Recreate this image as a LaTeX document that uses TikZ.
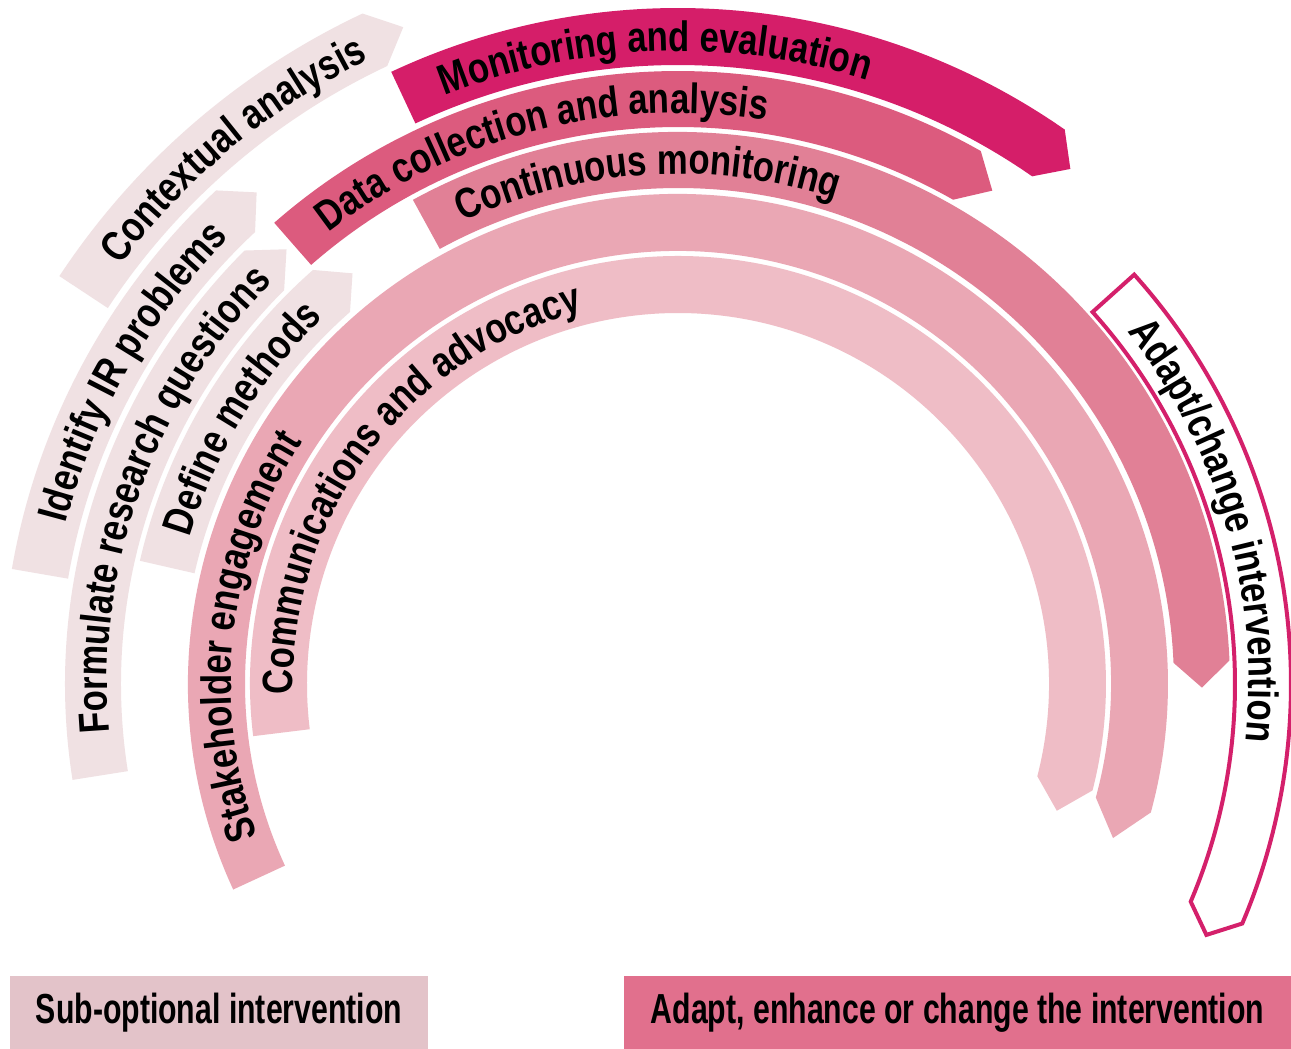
\documentclass[tikz,border=0pt]{standalone}
\usepackage{fontspec}
\setmainfont{Liberation Sans}
\newfontfamily\bandfont{Liberation Sans}[FakeStretch=0.815]
\newfontfamily\legfont{Liberation Sans}[FakeStretch=0.72]
\usetikzlibrary{decorations.text}
\definecolor{lightband}{HTML}{F0E1E3}
\definecolor{mecol}{HTML}{D51E69}
\definecolor{dccol}{HTML}{DC5B7E}
\definecolor{cmcol}{HTML}{E18096}
\definecolor{secol}{HTML}{EAA7B4}
\definecolor{cacol}{HTML}{EFBDC6}
\definecolor{adcol}{HTML}{D4206B}
\definecolor{legA}{HTML}{E3C3C9}
\definecolor{legB}{HTML}{E1708D}
\newcommand{\drawband}[6]{%
  \pgfmathsetmacro{\rmid}{(#2+#3)/2}%
  \path[#1] (#4:#3) arc[start angle=#4, end angle=#5, radius=#3]
     -- (#6:\rmid) -- (#5:#2) arc[start angle=#5, end angle=#4, radius=#2] -- cycle;
}
\newcommand{\bandtext}[3]{%
  \pgfmathsetmacro{\txtend}{#2-110}%
  \path[decorate, decoration={text along path,
     text={|\bandfont\bfseries\fontsize{42.5}{50}\selectfont|#3}}]
     (#2:#1) arc[start angle=#2, end angle=\txtend, radius=#1];
}
\tikzset{
  lightfill/.style={fill=lightband},
  legbox/.style={inner sep=0pt, minimum height=73pt, text=black,
     font=\legfont\bfseries\fontsize{42}{50}\selectfont},
}
\begin{document}
\begin{tikzpicture}[x=1pt,y=1pt]
\useasboundingbox[fill=white] (-678,-365) rectangle (613,684);
% ring radii: k0 371-428, k1 433-490, k2 496-552, k3 557-613, k4 619-676, k5 683-741
\drawband{lightfill}{683}{741}{146.6}{115.2}{112.7}
\drawband{lightfill}{619}{676}{170.2}{133.1}{130.6}
\drawband{lightfill}{557}{613}{189}{135}{132}
\drawband{lightfill}{496}{552}{167.1}{131.4}{128.4}
\drawband{fill=mecol}{619}{676}{115.1}{55.1}{52.7}
\drawband{fill=dccol}{557}{613}{131.2}{60.4}{57.5}
\drawband{fill=cmcol}{496}{552}{118.7}{2.45}{-0.4}
\drawband{fill=secol}{433}{490}{204.8}{-15.2}{-19.5}
\drawband{fill=cacol}{371}{428}{187}{-14.4}{-18.5}
\drawband{fill=white,draw=adcol,line width=4pt,line join=miter}{557}{613}{41.9}{-23}{-25.4}
% labels
\bandtext{697}{143.1}{Contextual analysis}
\bandtext{633}{165.3}{Identify IR problems}
\bandtext{571}{184.9}{Formulate research questions}
\bandtext{510}{163.3}{Define methods}
\bandtext{633}{111.6}{Monitoring and evaluation}
\bandtext{571}{127.7}{Data collection and analysis}
\bandtext{510}{115.0}{Continuous monitoring}
\bandtext{447}{200}{Stakeholder engagement}
\bandtext{385}{181.6}{Communications and advocacy}
\bandtext{571}{38.1}{Adapt/change intervention}
% legend
\node[legbox, fill=legA, minimum width=418pt] (legsub) at (-459,-328.5) {\raisebox{-3pt}{Sub-optional intervention}};
\node[legbox, fill=legB, minimum width=667pt] (legadapt) at (279.5,-328.5) {\raisebox{-3pt}{Adapt, enhance or change the intervention}};
\end{tikzpicture}
\end{document}
